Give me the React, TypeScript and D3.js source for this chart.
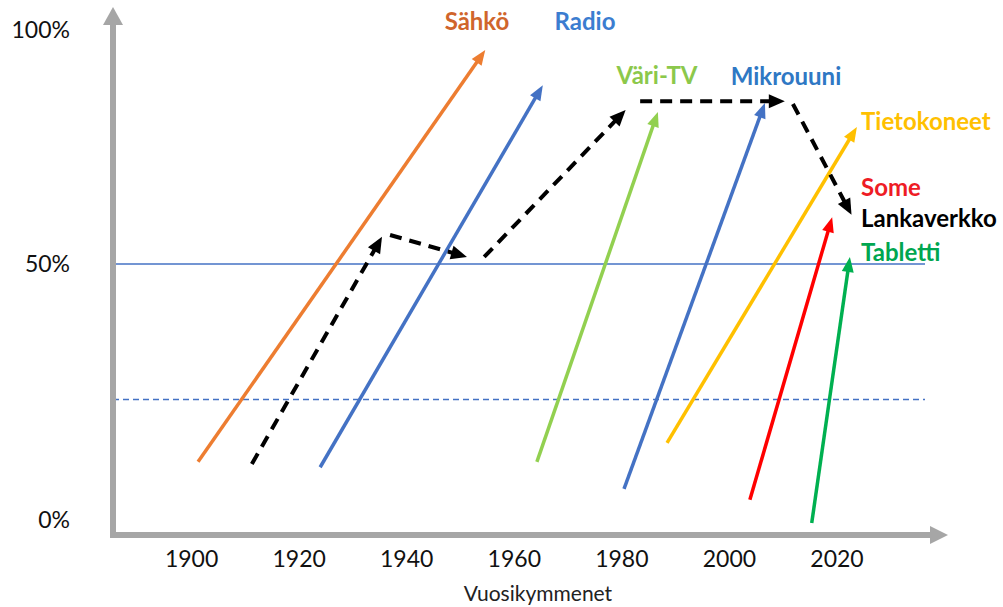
import React from "react"
import * as d3 from "d3"

// Technologies (arrow start / end in year + adoption share %)
const techNames = ["Sähkö", "Radio", "Väri-TV", "Mikrouuni", "Tietokoneet", "Some", "Tabletti"]
const startYears = [1901.2, 1923.9, 1964.2, 1980.4, 1988.4, 2003.8, 2015.3]
const startShares = [13.5, 12.5, 13.5, 8.5, 17.0, 6.5, 2.2]
const endYears = [1954.6, 1965.3, 1986.7, 2006.6, 2023.7, 2019.1, 2022.4]
const endShares = [95.7, 88.2, 82.5, 84.4, 79.3, 60.0, 51.5]

// Lankaverkko, dashed multi-step path
const wireFromYears = [1911.2, 1936.9, 1954.4, 1983.4, 2011.8]
const wireFromShares = [13.1, 56.2, 51.5, 84.8, 84.2]
const wireToYears = [1935.4, 1951.2, 1980.7, 2010.3, 2022.7]
const wireToShares = [55.8, 51.5, 82.9, 84.8, 60.5]

const xTicks = [1900, 1920, 1940, 1960, 1980, 2000, 2020]
const yTicks = [0, 50, 100]
const yTickLabels = ["0%", "50%", "100%"]

const W = 1003
const H = 607
const arrowColors = ["#ED7D31", "#4472C4", "#92D050", "#4472C4", "#FFC000", "#FF0000", "#00B050"]
const labelColors = ["#D0652C", "#3B7DD0", "#8CC84B", "#2F78C4", "#FFC000", "#EE1C25", "#00A650"]
const labelPos: [number, number, string][] = [
  [477, 22, "middle"],
  [585, 22, "middle"],
  [657, 76, "middle"],
  [786, 77, "middle"],
  [861, 122, "start"],
  [861, 188, "start"],
  [861, 253, "start"],
]

const x = d3.scaleLinear().domain([1900, 2020]).range([191.6, 837])
const y = d3.scaleLinear().domain([0, 50, 100]).range([535, 264, 30])

function Arrow({ x1, y1, x2, y2, color, width, head, headW, dash }: any) {
  const dx = x2 - x1
  const dy = y2 - y1
  const len = Math.hypot(dx, dy)
  const ux = dx / len
  const uy = dy / len
  const bx = x2 - ux * head
  const by = y2 - uy * head
  const px = -uy * headW / 2
  const py = ux * headW / 2
  const pts = `${x2},${y2} ${bx + px},${by + py} ${bx - px},${by - py}`
  return (
    <g>
      <line
        x1={x1}
        y1={y1}
        x2={x2 - ux * (head - 2)}
        y2={y2 - uy * (head - 2)}
        stroke={color}
        strokeWidth={width}
        strokeDasharray={dash}
      />
      <polygon points={pts} fill={color} />
    </g>
  )
}

export default function App() {
  const axisColor = "#A6A6A6"
  const x0 = 113
  const yBase = 535
  const font = "Lato, 'Open Sans', sans-serif"

  return (
    <div style={{ position: "absolute", left: 0, top: 0 }}>
      <svg width={W} height={H} style={{ display: "block", background: "#fff" }}>
        {/* reference lines */}
        <line x1={x0} x2={925} y1={y(50)} y2={y(50)} stroke="#4472C4" strokeWidth={1.5} />
        <line
          x1={x0}
          x2={925}
          y1={y(25)}
          y2={y(25)}
          stroke="#4472C4"
          strokeWidth={1.3}
          strokeDasharray="6,4"
        />

        {/* axes */}
        <line x1={x0} x2={x0} y1={yBase + 3} y2={22} stroke={axisColor} strokeWidth={6} />
        <polygon points={`${x0},7 ${x0 - 10},25 ${x0 + 10},25`} fill={axisColor} />
        <line x1={x0 - 3} x2={932} y1={yBase} y2={yBase} stroke={axisColor} strokeWidth={6} />
        <polygon points={`948,${yBase} 930,${yBase - 9} 930,${yBase + 9}`} fill={axisColor} />

        {/* tick labels */}
        {yTicks.map((v, i) => (
          <text
            key={v}
            x={70}
            y={v === 0 ? y(v) - 15 : y(v)}
            dy="0.35em"
            textAnchor="end"
            fontFamily={font}
            fontSize={23}
            fill="#111"
          >
            {yTickLabels[i]}
          </text>
        ))}
        {xTicks.map((t) => (
          <text
            key={t}
            x={x(t)}
            y={559}
            dy="0.35em"
            textAnchor="middle"
            fontFamily={font}
            fontSize={23}
            fill="#111"
          >
            {t}
          </text>
        ))}
        <text x={538} y={594} dy="0.35em" textAnchor="middle" fontFamily={font} fontSize={21} fill="#222">
          Vuosikymmenet
        </text>

        {/* technology arrows */}
        {techNames.map((n, i) => (
          <Arrow
            key={n}
            x1={x(startYears[i])}
            y1={y(startShares[i])}
            x2={x(endYears[i])}
            y2={y(endShares[i])}
            color={arrowColors[i]}
            width={3.5}
            head={15}
            headW={12}
          />
        ))}

        {/* Lankaverkko */}
        {wireFromYears.map((yr, i) => (
          <Arrow
            key={i}
            x1={x(yr)}
            y1={y(wireFromShares[i])}
            x2={x(wireToYears[i])}
            y2={y(wireToShares[i])}
            color="#000"
            width={4}
            head={16}
            headW={14}
            dash="12,8"
          />
        ))}

        {/* labels */}
        {techNames.map((n, i) => (
          <text
            key={n}
            x={labelPos[i][0]}
            y={labelPos[i][1]}
            dy="0.35em"
            textAnchor={labelPos[i][2]}
            fontFamily={font}
            fontWeight="bold"
            fontSize={24}
            fill={labelColors[i]}
          >
            {n}
          </text>
        ))}
        <text x={861} y={219} dy="0.35em" fontFamily={font} fontWeight="bold" fontSize={24} fill="#000">
          Lankaverkko
        </text>
      </svg>
    </div>
  )
}
